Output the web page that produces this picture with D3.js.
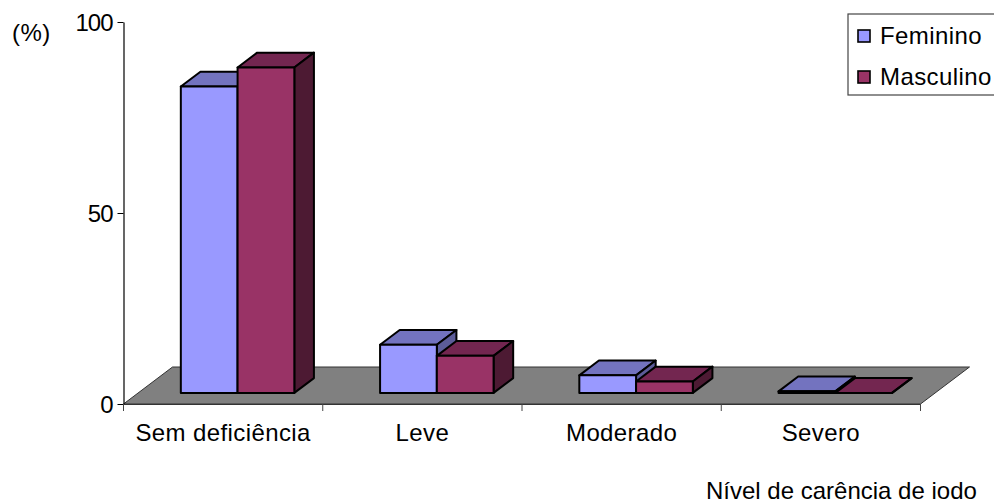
<!DOCTYPE html>
<html>
<head>
<meta charset="utf-8">
<script src="https://cdnjs.cloudflare.com/ajax/libs/d3/7.8.5/d3.min.js"></script>
<style>
html,body{margin:0;padding:0;background:#fff}
svg{display:block}
text{font-family:"Liberation Sans",Arial,sans-serif;font-size:24px;letter-spacing:0.4px;fill:#000}
.value-axis text{letter-spacing:-1px}
.axis-title{letter-spacing:0}
</style>
</head>
<body>
<svg id="chart" width="994" height="504"></svg>
<script>
const categories = ["Sem deficiência", "Leve", "Moderado", "Severo"];
const seriesNames = ["Feminino", "Masculino"];
const feminino = [80.2, 12.6, 4.6, 0.4];
const masculino = [85.2, 9.7, 3.0, 0];
const valueTicks = [0, 50, 100];

const frontFill = ["#9999ff", "#993366"];
const topFill = ["#7373bf", "#732650"];
const sideFill = ["#5c5c99", "#4d1a33"];
const floorFill = "#808080";

const svg = d3.select("#chart");
const x = d3.scaleBand().domain(categories).range([123.5, 920.5]);
const y = d3.scaleLinear().domain([0, 100]).range([404, 22]);
const series = d3.scaleBand().domain(seriesNames).range([-57, 56.5]);

// Oblique projection: z runs from the front (0) to the back (1) of the floor.
const depthX = d3.scaleLinear().domain([0, 1]).range([0, 49]);
const depthY = d3.scaleLinear().domain([0, 1]).range([0, -37]);
const project = (px, value, z) => [px + depthX(z), y(value) + depthY(z)];
const poly = pts => "M" + pts.map(p => p.join(",")).join("L") + "Z";

const [x0, x1] = x.range();
svg.append("path")
  .attr("d", poly([project(x0, 0, 0), project(x1, 0, 0), project(x1, 0, 1), project(x0, 0, 1)]))
  .attr("fill", floorFill).attr("stroke", "#333").attr("stroke-width", 1);

// Bars stand in the middle of the floor depth.
const zFront = 0.3, zBack = 0.7;
const values = [feminino, masculino];
categories.forEach((cat, i) => {
  const cx = x(cat) + x.bandwidth() / 2;
  seriesNames.forEach((name, s) => {
    const l = cx + series(name), r = l + series.bandwidth();
    const v = values[s][i];
    const g = svg.append("g").attr("stroke", "#000").attr("stroke-width", 2).attr("stroke-linejoin", "round");
    g.append("path").attr("fill", topFill[s])
      .attr("d", poly([project(l, v, zFront), project(r, v, zFront), project(r, v, zBack), project(l, v, zBack)]));
    g.append("path").attr("fill", sideFill[s])
      .attr("d", poly([project(r, 0, zFront), project(r, v, zFront), project(r, v, zBack), project(r, 0, zBack)]));
    g.append("path").attr("fill", frontFill[s])
      .attr("d", poly([project(l, 0, zFront), project(r, 0, zFront), project(r, v, zFront), project(l, v, zFront)]));
  });
});

// Value axis
const yAxis = svg.append("g").attr("class", "value-axis").attr("transform", "translate(123.5,0)")
  .call(d3.axisLeft(y).tickValues(valueTicks).tickSize(6).tickPadding(5).tickSizeOuter(0));
yAxis.select(".domain").attr("stroke", "#000").attr("stroke-width", 1.2);
yAxis.selectAll("line").attr("stroke", "#000");
yAxis.selectAll("text").attr("font-size", null).attr("font-family", null).attr("dy", "0.37em");

// Category axis
svg.append("line").attr("x1", x0).attr("x2", x1).attr("y1", 404.5).attr("y2", 404.5)
  .attr("stroke", "#333").attr("stroke-width", 1.2);
svg.append("g").selectAll("line").data(d3.range(categories.length + 1)).join("line")
  .attr("x1", d => x0 + d * x.step()).attr("x2", d => x0 + d * x.step())
  .attr("y1", 404).attr("y2", 411).attr("stroke", "#444");
svg.append("g").selectAll("text").data(categories).join("text")
  .attr("x", d => x(d) + x.bandwidth() / 2).attr("y", 441)
  .attr("text-anchor", "middle").text(d => d);

svg.append("text").attr("x", 12).attr("y", 41).text("(%)");
svg.append("text").attr("class", "axis-title").attr("x", 706).attr("y", 499).text("Nível de carência de iodo");

// Legend
const legend = svg.append("g");
legend.append("rect").attr("x", 848).attr("y", 14).attr("width", 150).attr("height", 81)
  .attr("fill", "#fff").attr("stroke", "#444").attr("stroke-width", 1.2);
seriesNames.forEach((name, s) => {
  const cy = 36 + s * 41;
  legend.append("rect").attr("x", 858).attr("y", cy - 6).attr("width", 12).attr("height", 12)
    .attr("fill", frontFill[s]).attr("stroke", "#000").attr("stroke-width", 1.6);
  legend.append("text").attr("x", 880).attr("y", cy + 8).text(name);
});
</script>
</body>
</html>
